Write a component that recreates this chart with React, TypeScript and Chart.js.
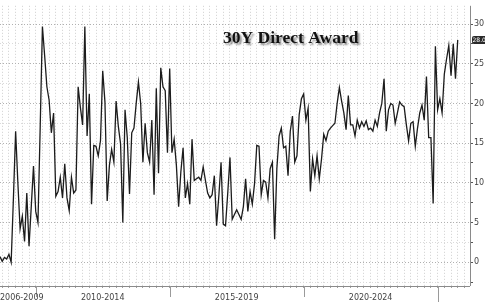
import React, { useEffect, useRef } from "react";
import { Chart, registerables } from "chart.js";
Chart.register(...registerables);

// Monthly 30Y direct award (%), index 0 = Sep 2008
const directAward: number[] = [
  0.7, 0.1, 0.6, 0.4, 1.0, 0.0, 8, 16.5, 10, 4.2, 5.8, 2.6, 8.7, 2.0, 7, 12.1, 6.4, 5.0, 17, 29.7,
  26, 22.1, 20.4, 16.3, 18.8, 8.3, 8.9, 10.7, 8.1, 12.4, 8.1, 6.5, 10.7, 8.7, 9.1, 22.1, 19.5, 17.3, 29.7, 15.9,
  21.2, 7.3, 14.7, 14.6,
  13.4, 15.3, 24.1, 20.2, 7.7, 12.2, 14.2, 12.6, 20.3, 17.1, 14.9, 5.0, 19.2, 15.7, 8.6, 16.3, 16.9, 20, 22.7, 20,
  12.6, 17.5, 13.8, 12.6, 17.9, 8.5, 21.9, 11.2, 24.5, 22.1, 21.6, 13.8, 24.4, 13.8, 15.5, 12.2, 7.0, 11.4, 14.4, 8.1,
  9.9, 7.3,
  15.5, 10.3, 10.5, 10.7, 10.3, 12.0, 10.3, 8.7, 8.1, 8.5, 10.9, 4.6, 8.3, 12.6, 4.8, 4.6, 8.7, 13.2, 5.4, 6.0,
  6.6, 6.0, 5.4, 7.0, 10.5, 6.4, 8.9, 7.3, 9.9, 14.7, 14.6, 8.5, 10.3, 10.1, 8.1, 11.8, 12.6, 2.9, 11.8, 15.9,
  16.9, 14.4, 14.6,
  10.9, 16.5, 18.4, 12.6, 13.4, 18.6, 20.6, 21.2, 17.9, 19.4, 8.9, 13.0, 10.9, 13.4, 10.5, 13.0, 16.1, 15.3, 16.5, 16.9,
  17.2, 17.5, 20.0, 22.0, 20.3, 18.8, 16.7, 21.0, 17.3, 17.3, 15.9, 17.9, 16.9, 17.7, 17.1, 17.8, 16.7, 16.9, 16.5, 17.9,
  17.1, 18.8,
  20.0, 23.1, 16.5, 19.2, 20.0, 19.8, 17.5, 18.8, 20.2, 19.8, 19.6, 17.3, 15.3, 17.5, 17.7, 14.6, 16.9, 18.8, 19.8, 17.9,
  23.4, 15.7, 15.7, 7.4, 27.2, 19.2, 20.6, 18.8, 23.7, 25.6, 27.3, 23.5, 27.5, 23.1, 28.0,
];

const periodLabels: string[] = ["2006-2009", "2010-2014", "2015-2019", "2020-2024"];
// month indices (0 = Sep 2008) where each period starts / ends
const periodStarts: number[] = [-32, 16, 76, 136];
const periodEnds: number[] = [16, 76, 136, 196];
const yTickValues: number[] = [-2.5, 0, 2.5, 5, 7.5, 10, 12.5, 15, 17.5, 20, 22.5, 25, 27.5, 30];
const titleText = "30Y Direct Award";
const X_MIN = 0;
const X_MAX = 210.5;
const Y_MIN = -3;
const Y_MAX = 32.3;

export default function App() {
  const ref = useRef<HTMLCanvasElement | null>(null);
  useEffect(() => {
    document.body.style.margin = "0";
    const canvas = ref.current!;
    const points = directAward.map((v, i) => ({ x: i, y: v }));
    const quarterTicks: number[] = [];
    for (let v = 1; v <= X_MAX; v += 3) quarterTicks.push(v);
    const lastValue = directAward[directAward.length - 1];

    const overlay = {
      id: "overlay",
      afterDraw(chart: any) {
        const c = chart.ctx as CanvasRenderingContext2D;
        const xs = chart.scales.x;
        const ys = chart.scales.y;
        const a = chart.chartArea;
        c.save();
        // axis lines
        c.strokeStyle = "#8a8a8a";
        c.lineWidth = 1;
        c.beginPath();
        c.moveTo(a.left, Math.round(a.bottom) + 0.5);
        c.lineTo(a.right, Math.round(a.bottom) + 0.5);
        c.stroke();
        c.beginPath();
        c.moveTo(Math.round(a.right) + 0.5, a.top);
        c.lineTo(Math.round(a.right) + 0.5, a.bottom);
        c.stroke();
        // period separators
        c.strokeStyle = "#9a9a9a";
        periodEnds.forEach((e, i) => {
          const px = Math.round(xs.getPixelForValue(e)) + 0.5;
          if (px < a.left || px > a.right) return;
          c.beginPath();
          c.moveTo(px, a.bottom);
          c.lineTo(px, i === periodEnds.length - 1 ? a.bottom + 17 : a.bottom + 11);
          c.stroke();
        });
        // period labels
        c.font = "8px 'DejaVu Sans'";
        c.fillStyle = "#444";
        c.textAlign = "center";
        c.textBaseline = "middle";
        periodLabels.forEach((lab, i) => {
          const s = Math.max(xs.getPixelForValue(periodStarts[i]), a.left);
          const e = Math.min(xs.getPixelForValue(periodEnds[i]), a.right);
          const hw = c.measureText(lab).width / 2;
          let cx = (s + e) / 2;
          cx = Math.max(cx, a.left + hw);
          c.fillText(lab, cx, a.bottom + 12);
        });
        // title
        c.font = "bold 17.5px 'Liberation Serif'";
        c.fillStyle = "#111";
        c.textAlign = "left";
        c.textBaseline = "alphabetic";
        c.shadowColor = "rgba(0,0,0,0.45)";
        c.shadowOffsetX = 2;
        c.shadowOffsetY = 2;
        c.shadowBlur = 2;
        c.fillText(titleText, 223, 43);
        c.shadowColor = "transparent";
        c.shadowBlur = 0;
        c.shadowOffsetX = 0;
        c.shadowOffsetY = 0;
        // last value badge
        const by = ys.getPixelForValue(lastValue);
        c.fillStyle = "#2a2a2a";
        c.beginPath();
        (c as any).roundRect(a.right + 2, by - 4, 20, 8, 2);
        c.fill();
        c.fillStyle = "#fff";
        c.font = "6px 'DejaVu Sans'";
        c.textBaseline = "middle";
        c.fillText(lastValue.toFixed(1), a.right + 2.5, by + 0.5);
        c.restore();
      },
    };

    const chart = new Chart(canvas, {
      type: "line",
      data: {
        datasets: [
          {
            data: points,
            borderColor: "#1c1c1c",
            borderWidth: 1.3,
            pointRadius: 0,
            tension: 0,
            fill: false,
          },
        ],
      },
      options: {
        animation: false,
        responsive: false,
        maintainAspectRatio: false,
        layout: { padding: 0 },
        plugins: { legend: { display: false }, tooltip: { enabled: false } },
        scales: {
          x: {
            type: "linear",
            min: X_MIN,
            max: X_MAX,
            afterBuildTicks: (s: any) => {
              s.ticks = quarterTicks.map((v) => ({ value: v }));
            },
            afterFit: (s: any) => {
              s.height = 16;
            },
            ticks: { display: false },
            border: { display: false, dash: [1, 2] },
            grid: {
              color: "#cfcfcf",
              lineWidth: 1,
              drawTicks: true,
              tickLength: 2,
              tickColor: "#a0a0a0",
            },
          },
          y: {
            type: "linear",
            position: "right",
            min: Y_MIN,
            max: Y_MAX,
            afterBuildTicks: (s: any) => {
              s.ticks = yTickValues.map((v) => ({ value: v }));
            },
            afterFit: (s: any) => {
              s.width = 15;
            },
            border: { display: false, dash: [1, 2] },
            grid: {
              color: (ctx: any) => (ctx.tick && ctx.tick.value % 5 === 0 ? "#b0b0b0" : "#dadada"),
              lineWidth: 1,
              drawTicks: true,
              tickLength: 3,
              tickColor: "#555",
            },
            ticks: {
              padding: 1,
              color: "#444",
              font: { size: 8, family: "'DejaVu Sans'" },
              callback: (v: any) => (Number(v) % 5 === 0 ? String(v) : ""),
            },
          },
        },
      },
      plugins: [overlay],
    } as any);
    return () => chart.destroy();
  }, []);

  return (
    <div style={{ position: "fixed", left: 0, top: 0, width: 485, height: 302, background: "#fff" }}>
      <canvas ref={ref} width={485} height={302} style={{ display: "block" }} />
    </div>
  );
}
